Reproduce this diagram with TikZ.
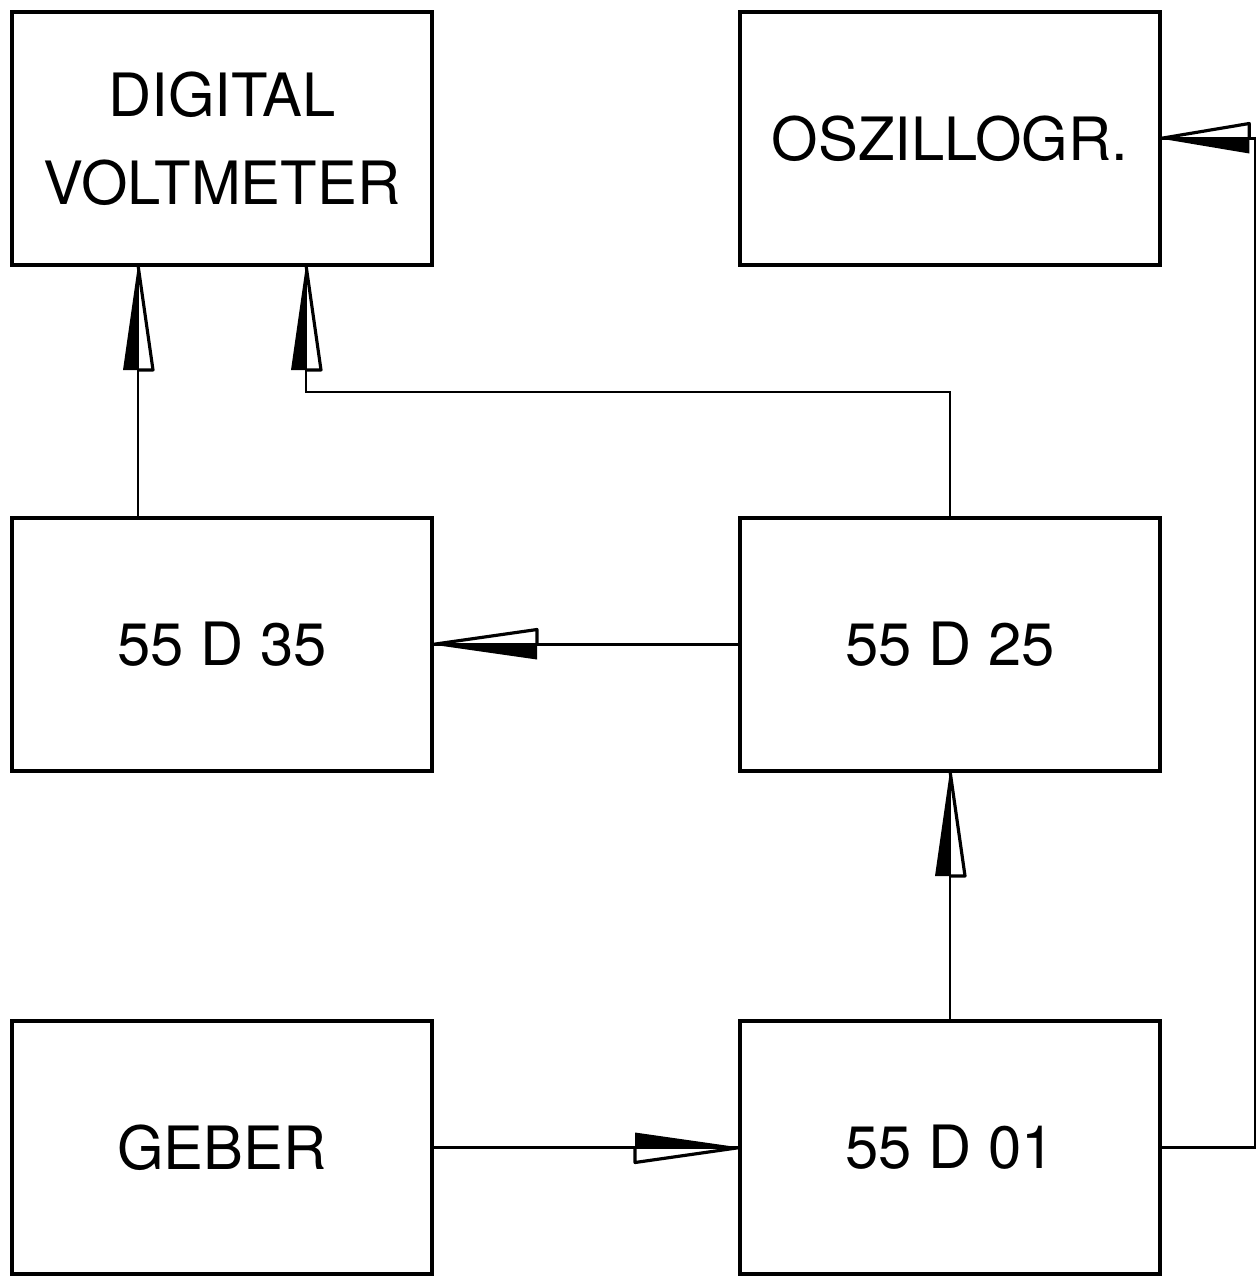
\documentclass[tikz,border=0pt]{standalone}
\usepackage{fontspec}
\setmainfont{TeX Gyre Heros}
\usepackage{tikz}
\usetikzlibrary{positioning,calc}

\tikzset{
  halbpfeil/.pic={
    \fill (0,0) -- (-1.05,0.15) -- (-1.05,0) -- cycle;
    \draw[line width=0.9pt,line join=round] (0,0) -- (-1.05,-0.15) -- (-1.05,0);
  }
}

\begin{document}
\begin{tikzpicture}[node distance=2.53cm and 3.08cm]
  \tikzstyle{block}=[rectangle,draw,line width=1.4pt,minimum width=4.2cm,minimum height=2.53cm,
    align=center,font=\fontsize{17}{25}\selectfont,inner sep=0pt,outer sep=0pt]
  \tikzstyle{wire}=[line width=0.8pt]
  \useasboundingbox (0,0) rectangle (12.58,-12.76);
  \node[block] (dvm) at (2.22,-1.385) {DIGITAL\\VOLTMETER};
  \node[block,right=of dvm] (osz) {OSZILLOGR.};
  \node[block,below=of dvm] (d35) {55 D 35};
  \node[block,below=of osz] (d25) {55 D 25};
  \node[block,below=2.5cm of d35] (geber) {GEBER};
  \node[block,below=2.5cm of d25] (d01) {55 D 01};
  % Leitungen
  \coordinate (a1) at ($(dvm.south west)!0.3!(dvm.south east)$);
  \coordinate (a2) at ($(dvm.south west)!0.7!(dvm.south east)$);
  \draw[wire] (a1 |- d35.north) -- (a1);
  \draw[wire] (d25.north) |- ($(a2)+(0,-1.27)$) -- (a2);
  \draw[wire] (d25.west) -- (d35.east);
  \draw[wire] (d01.north) -- (d25.south);
  \draw[wire] (geber.east) -- (d01.west);
  \draw[wire] (d01.east) -- ++(0.95,0) |- (osz.east);
  % Pfeilspitzen
  \pic[rotate=90] at (a1) {halbpfeil};
  \pic[rotate=90] at (a2) {halbpfeil};
  \pic[rotate=180] at (d35.east) {halbpfeil};
  \pic[rotate=90] at (d25.south) {halbpfeil};
  \pic at (d01.west) {halbpfeil};
  \pic[rotate=180,xscale=0.85] at (osz.east) {halbpfeil};
\end{tikzpicture}
\end{document}
